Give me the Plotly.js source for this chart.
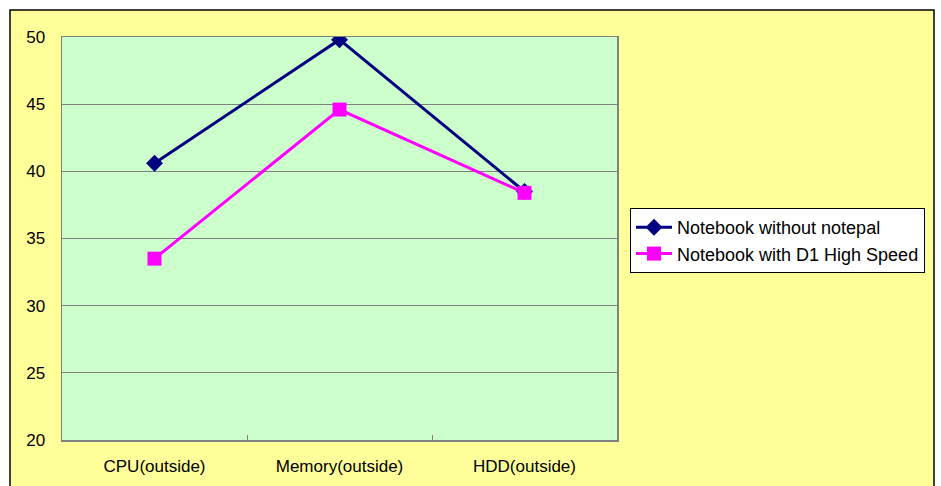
<!DOCTYPE html>
<html>
<head>
<meta charset="utf-8">
<script src="https://cdn.plot.ly/plotly-3.0.1.min.js"></script>
<style>html,body{margin:0;padding:0;background:#fff;}#chart{width:941px;height:486px;}</style>
</head>
<body>
<div id="chart"></div>
<script>
const categories = ["CPU(outside)", "Memory(outside)", "HDD(outside)"];
const seriesNames = ["Notebook without notepal", "Notebook with D1 High Speed"];
const withoutNotepal = [40.6, 49.8, 38.5];
const withD1 = [33.5, 44.6, 38.4];
const yTicks = [20, 25, 30, 35, 40, 45, 50];

const traces = [
  {
    x: categories, y: withoutNotepal, name: seriesNames[0], type: "scatter", mode: "lines+markers",
    line: {color: "#000080", width: 3},
    marker: {symbol: "diamond", size: 13, color: "#000080"}
  },
  {
    x: categories, y: withD1, name: seriesNames[1], type: "scatter", mode: "lines+markers",
    line: {color: "#FF00FF", width: 3},
    marker: {symbol: "square", size: 14, color: "#FF00FF"}
  }
];

const L = 62, R = 617, T = 37, B = 440;
const W = R - L, H = B - T;
const px = v => (v - L) / W;
const py = v => (B - v) / H;

const layout = {
  width: 941, height: 486,
  margin: {l: L, r: 941 - R, t: T, b: 486 - B, pad: 0},
  paper_bgcolor: "#FFFFFF",
  plot_bgcolor: "#CCFFCC",
  font: {family: "Arial, Liberation Sans, sans-serif", color: "#000", size: 15},
  showlegend: true,
  legend: {
    x: px(630), y: py(208), xanchor: "left", yanchor: "top",
    bgcolor: "#FFFFFF", bordercolor: "#000000", borderwidth: 1,
    itemwidth: 36,
    font: {size: 18, family: "Arial, Liberation Sans, sans-serif"}
  },
  xaxis: {
    type: "category", range: [-0.5, 2.5], fixedrange: true,
    showgrid: false, zeroline: false,
    showline: true, linecolor: "#808080", linewidth: 1.5, mirror: true,
    ticks: "inside", tickson: "boundaries", ticklen: 5, tickcolor: "#808080",
    tickfont: {size: 17, family: "Liberation Sans Narrow, Arial Narrow, sans-serif"},
    ticklabelstandoff: 10
  },
  yaxis: {
    range: [20, 50], tickvals: yTicks, fixedrange: true,
    showgrid: true, gridcolor: "#808080", gridwidth: 1,
    zeroline: false,
    showline: true, linecolor: "#808080", linewidth: 1.5, mirror: true,
    ticks: "", tickfont: {size: 17},
    ticklabelstandoff: 12
  },
  shapes: [
    {
      type: "rect", xref: "paper", yref: "paper", layer: "below",
      x0: px(10), x1: px(934), y0: py(510), y1: py(10),
      fillcolor: "#FFFF99", line: {color: "#000000", width: 1.5}
    },
    {
      type: "rect", xref: "paper", yref: "paper", layer: "below",
      x0: 0, x1: 1, y0: 0, y1: 1,
      fillcolor: "#CCFFCC", line: {width: 0}
    }
  ]
};

Plotly.newPlot("chart", traces, layout, {displayModeBar: false, staticPlot: true});
</script>
</body>
</html>
